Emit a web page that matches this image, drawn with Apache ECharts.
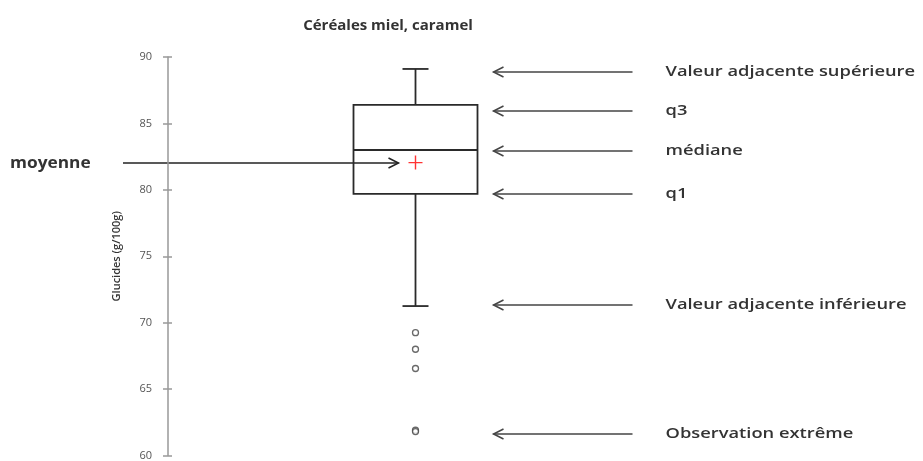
<!DOCTYPE html>
<html>
<head>
<meta charset="utf-8">
<script src="https://cdn.jsdelivr.net/npm/echarts@6/dist/echarts.min.js"></script>
<style>
  html, body { margin: 0; padding: 0; background: #fff; }
  #main { width: 923px; height: 461px; }
</style>
</head>
<body>
<div id="main"></div>
<script>
// axe des glucides
const yMin = 60;
const yMax = 90;
const yStep = 5;

// boîte : [bas, q1, médiane, q3, haut]
const boxStats = [71.25, 79.7, 83.0, 86.4, 89.1];
const meanValue = 82.05;
const outliers = [69.25, 68.0, 66.55, 61.9, 61.8];

// annotations à droite
const noteLabels = [
  "Valeur adjacente supérieure",
  "q3",
  "médiane",
  "q1",
  "Valeur adjacente inférieure",
  "Observation extrême",
];
const noteValues = [88.9, 85.95, 82.9, 79.7, 71.3, 61.6];
const meanLabel = "moyenne";

const chart = echarts.init(document.getElementById("main"), null, { renderer: "canvas" });

const option = {
  animation: false,
  backgroundColor: "#fff",
  title: {
    text: "Céréales miel, caramel",
    left: 383,
    top: 13,
    textAlign: "center",
    textStyle: { fontFamily: "Open Sans", fontSize: 15, fontWeight: "bold", color: "#333" },
  },
  grid: { left: 168, right: 260, top: 57, bottom: 5 },
  xAxis: {
    type: "category",
    data: [""],
    show: false,
  },
  yAxis: [
    {
      type: "value",
      min: yMin,
      max: yMax,
      interval: yStep,
      name: "Glucides (g/100g)",
      nameLocation: "middle",
      nameRotate: 90,
      nameGap: 46,
      nameTextStyle: { fontFamily: "Open Sans", fontSize: 11, fontWeight: 600, color: "#333" },
      axisLine: { show: true, lineStyle: { color: "#999", width: 1.5 } },
      axisTick: { show: true, length: 5, lineStyle: { color: "#999", width: 1.5 } },
      axisLabel: { fontFamily: "Open Sans", fontSize: 11, color: "#555", margin: 16 },
      splitLine: { show: false },
    },
    {
      type: "value",
      min: yMin,
      max: yMax,
      interval: yStep,
      position: "left",
      axisLine: { show: false },
      axisTick: { show: true, inside: true, length: 4, lineStyle: { color: "#999", width: 1.5 } },
      axisLabel: { show: false },
      splitLine: { show: false },
    },
  ],
  series: [
    {
      type: "custom",
      data: [[0].concat(boxStats)],
      encode: { x: 0, y: [1, 2, 3, 4, 5] },
      renderItem: function (params, api) {
        const cx = api.coord([api.value(0), api.value(3)])[0];
        const yLow = api.coord([0, api.value(1)])[1];
        const yQ1 = api.coord([0, api.value(2)])[1];
        const yMed = api.coord([0, api.value(3)])[1];
        const yQ3 = api.coord([0, api.value(4)])[1];
        const yHigh = api.coord([0, api.value(5)])[1];
        const half = 62;
        const cap = 13;
        const st = { stroke: "#2a2a2a", lineWidth: 1.8, fill: null };
        return {
          type: "group",
          children: [
            { type: "rect", shape: { x: cx - half, y: yQ3, width: half * 2, height: yQ1 - yQ3 }, style: st },
            { type: "line", shape: { x1: cx - half, y1: yMed, x2: cx + half, y2: yMed }, style: st },
            { type: "line", shape: { x1: cx, y1: yQ3, x2: cx, y2: yHigh }, style: st },
            { type: "line", shape: { x1: cx, y1: yQ1, x2: cx, y2: yLow }, style: st },
            { type: "line", shape: { x1: cx - cap, y1: yHigh, x2: cx + cap, y2: yHigh }, style: st },
            { type: "line", shape: { x1: cx - cap, y1: yLow, x2: cx + cap, y2: yLow }, style: st },
          ],
        };
      },
    },
    {
      type: "scatter",
      data: outliers.map((v) => [0, v]),
      symbol: "circle",
      symbolSize: 6,
      itemStyle: { color: "#fff", borderColor: "#444", borderWidth: 1.3 },
    },
    {
      type: "scatter",
      data: [[0, meanValue]],
      symbol: "path://M0,6.3h14v1.4h-14z M6.3,0h1.4v14h-1.4z",
      symbolSize: 14,
      itemStyle: { color: "#ff0000" },
    },
  ],
};
chart.setOption(option);

// flèches et textes des annotations
function arrow(x1, x2, y, tipX, dir, color) {
  return {
    type: "group",
    children: [
      { type: "line", shape: { x1: x1, y1: y, x2: x2, y2: y }, style: { stroke: color, lineWidth: 1.5 } },
      {
        type: "polyline",
        shape: { points: [[tipX + dir * 10, y - 5], [tipX, y], [tipX + dir * 10, y + 5]] },
        style: { stroke: color, lineWidth: 1.5, fill: null },
      },
    ],
  };
}

const cx = chart.convertToPixel({ xAxisIndex: 0 }, 0);
const graphics = [];
noteValues.forEach(function (v, i) {
  const y = Math.round(chart.convertToPixel({ yAxisIndex: 0 }, v));
  graphics.push(arrow(cx + 78, cx + 217, y, cx + 78, 1, "#444"));
  graphics.push({
    type: "text",
    x: cx + 250,
    y: y,
    scaleX: 1.22,
    style: {
      text: noteLabels[i],
      fontFamily: "Open Sans",
      fontSize: 15,
      fontWeight: 600,
      fill: "#333",
      verticalAlign: "middle",
    },
  });
});
const yMean = Math.round(chart.convertToPixel({ yAxisIndex: 0 }, meanValue));
graphics.push(arrow(123, cx - 17, yMean, cx - 17, -1, "#222"));
graphics.push({
  type: "text",
  x: 10,
  y: yMean,
  scaleX: 1.08,
  style: {
    text: meanLabel,
    fontFamily: "Open Sans",
    fontSize: 16,
    fontWeight: "bold",
    fill: "#333",
    verticalAlign: "middle",
  },
});
chart.setOption({ graphic: graphics });
</script>
</body>
</html>
